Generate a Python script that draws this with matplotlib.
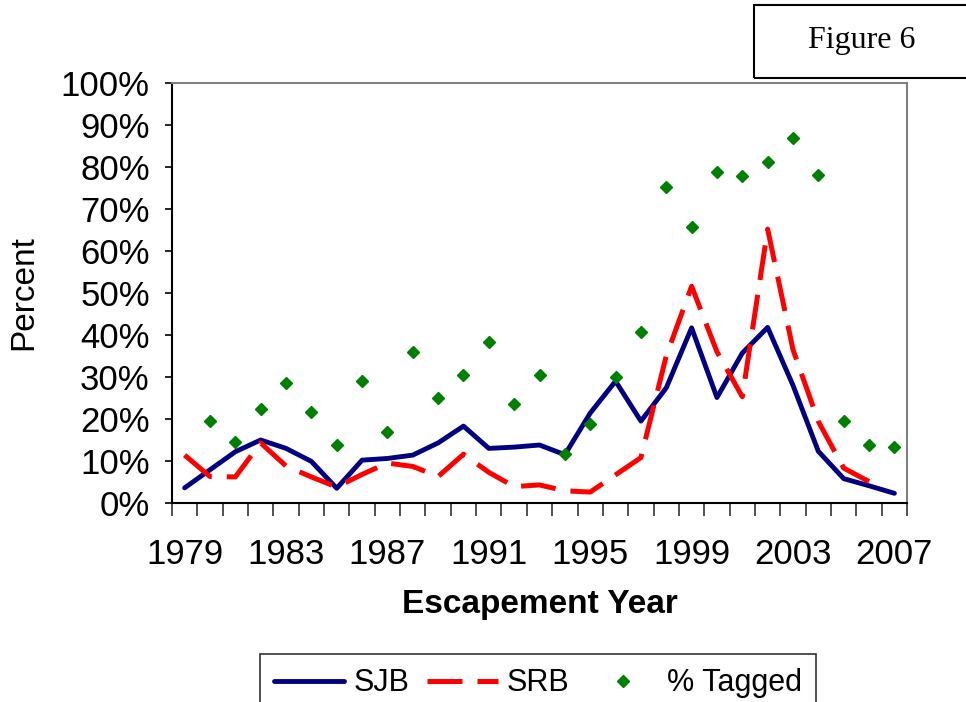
import numpy as np
import matplotlib.pyplot as plt
from matplotlib.patches import Rectangle
from matplotlib.ticker import FixedLocator, NullFormatter, FuncFormatter

years = np.arange(1979, 2008)

# percent values
sjb = [3.6, 7.9, 12.2, 15.0, 13.0, 9.9, 3.5, 10.2, 10.6, 11.4, 14.3, 18.3, 13.0, 13.3, 13.8, 11.5,
       21.4, 29.0, 19.5, 27.4, 41.7, 25.1, 35.7, 41.8, 28.0, 12.3, 5.8, 4.1, 2.3]
srb = [11.4, 6.3, 6.2, 14.3, 8.8, 6.2, 3.8, 6.8, 9.5, 8.7, 6.3, 11.6, 7.3, 3.9, 4.3, 2.9,
       2.6, 6.7, 10.8, 35.0, 51.6, 36.0, 25.3, 65.2, 36.5, 19.4, 8.3, 5.1, np.nan]
tagged = [np.nan, 19.6, 14.6, 22.4, 28.6, 21.6, 13.8, 29.0, 16.8, 35.9, 24.9, 30.5, 38.3, 23.6, 30.5, 11.7,
          18.8, 30.1, 40.7, 75.3, 65.6, 78.7, 77.9, 81.1, 86.8, 78.2, 19.6, 13.8, 13.4]

plt.rcParams['font.family'] = ['Liberation Sans', 'DejaVu Sans']

fig = plt.figure(figsize=(9.66, 7.02), dpi=100)
ax = fig.add_axes([0.178, 0.2835, 0.761, 0.5983])

ax.plot(years, sjb, color='#000080', linewidth=3.5, label='SJB', solid_capstyle='round')
ax.plot(years, srb, color='#FF0000', linewidth=3.6, dashes=(7, 3), label='SRB')
ax.plot(years, tagged, linestyle='none', marker='D', markersize=6, color='#008000', label='% Tagged')

ax.set_xlim(1978.5, 2007.5)
ax.set_ylim(0, 100)

ax.xaxis.set_major_locator(FixedLocator(np.arange(1978.5, 2008, 1)))
ax.xaxis.set_major_formatter(NullFormatter())
ax.xaxis.set_minor_locator(FixedLocator(np.arange(1979, 2008, 4)))
ax.xaxis.set_minor_formatter(FuncFormatter(lambda v, p: f'{int(round(v))}'))
ax.tick_params(axis='x', which='major', length=9, width=1.2, direction='out', color='#333333')
ax.tick_params(axis='x', which='minor', length=0, labelsize=25, pad=25)

ax.set_yticks(np.arange(0, 101, 10))
ax.yaxis.set_major_formatter(FuncFormatter(lambda v, p: f'{int(v)}%'))
ax.tick_params(axis='y', length=5, width=1.2, direction='out', labelsize=25, pad=11)

for side in ['top', 'right']:
    ax.spines[side].set_color('#808080')
    ax.spines[side].set_linewidth(1.5)
for side in ['left', 'bottom']:
    ax.spines[side].set_color('black')
    ax.spines[side].set_linewidth(1.5)

ax.set_ylabel('Percent', fontsize=24)
ax.yaxis.set_label_coords(-0.18, 0.5)
ax.set_xlabel('Escapement Year', fontsize=24, fontweight='bold')
ax.xaxis.set_label_coords(0.5, -0.205)

leg = fig.legend(loc='upper center', bbox_to_anchor=(0.557, 0.0895), ncol=3, fontsize=22,
                 frameon=True, fancybox=False, edgecolor='black', borderpad=0.45,
                 handlelength=2.3, columnspacing=0.6, handletextpad=0.3)
leg.get_frame().set_linewidth(1.2)

fig.patches.append(Rectangle((0.7805, 0.889), 0.23, 0.104, transform=fig.transFigure,
                             fill=False, edgecolor='black', linewidth=1.5))
fig.text(0.892, 0.943, 'Figure 6', fontsize=23, family='Liberation Serif', ha='center', va='center')

fig.savefig('out.png', dpi=100)
